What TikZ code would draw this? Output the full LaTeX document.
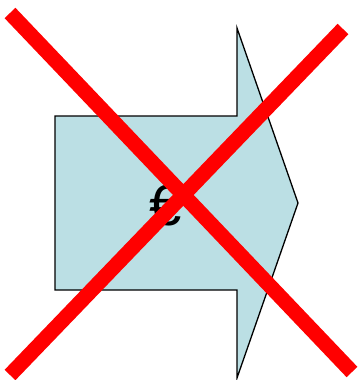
\documentclass[tikz,border=0pt]{standalone}
\usepackage{fontspec}
\setmainfont{Liberation Sans}
\definecolor{arrowfill}{HTML}{BBDFE4}
\definecolor{xred}{HTML}{FF0000}
\begin{document}
\begin{tikzpicture}[x=1pt,y=-1pt,
  arrowshape/.style={draw=black,line width=1.3pt,fill=arrowfill,line join=miter},
  crossline/.style={draw=xred,line width=15pt,line cap=butt}]
\useasboundingbox (0,0) rectangle (360,380);
\draw[arrowshape] (55,116) -- (237,116) -- (237,28) -- (298,203) -- (237,378) -- (237,290) -- (55,290) -- cycle;
\node[font=\fontsize{58}{66}\selectfont,inner sep=0pt] (sym) at (166,206) {€};
\coordinate (a1) at (10,13);
\coordinate (a2) at (352,372);
\coordinate (b1) at (343,29);
\coordinate (b2) at (10,375);
\draw[crossline] (a1) -- (a2);
\draw[crossline] (b1) -- (b2);
\end{tikzpicture}
\end{document}
